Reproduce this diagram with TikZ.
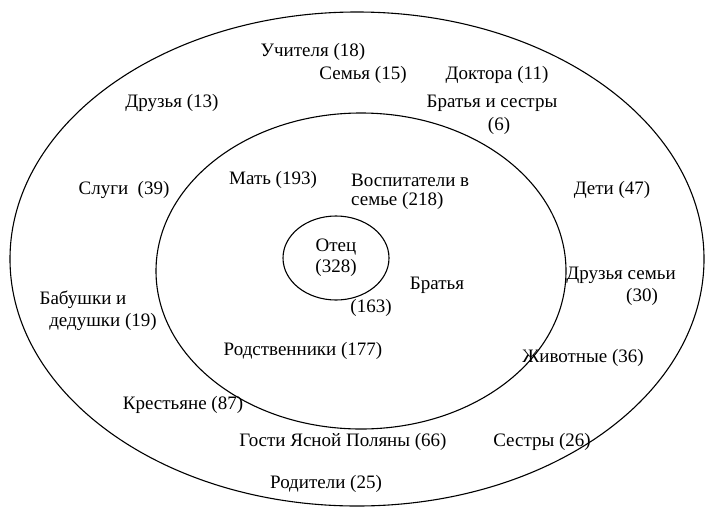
\documentclass[tikz,border=0pt]{standalone}
\usepackage{fontspec}
\setmainfont{Liberation Serif}
\begin{document}
\begin{tikzpicture}[x=1pt,y=-1pt,
  lbl/.style={font=\fontsize{19}{21}\selectfont, inner sep=0pt, align=center},
  ring/.style={draw=black, line width=1.1pt}]
\useasboundingbox (0,0) rectangle (708,506);
\fill[white] (0,0) rectangle (708,506);
% ellipses
\draw[ring] (357,259) ellipse [x radius=347, y radius=247];
\draw[ring] (361,271) ellipse [x radius=205, y radius=158];
\draw[ring] (336,258) ellipse [x radius=53, y radius=42];
% labels
\node[lbl] (uch) at (313,52) {Учителя (18)};
\node[lbl] (sem) at (363,75) {Семья (15)};
\node[lbl] (dok) at (497,75) {Доктора (11)};
\node[lbl] (dru) at (172,103) {Друзья (13)};
\node[lbl] (brs) at (492,103) {Братья и сестры};
\node[lbl] (brs6) at (499,126) {(6)};
\node[lbl] (slu) at (124,190) {Слуги\ \ (39)};
\node[lbl] (mat) at (273,180) {Мать (193)};
\node[lbl, anchor=west] (vos) at (351,180) {Воспитатели в};
\node[lbl, anchor=west] (vos2) at (351,201) {семье (218)};
\node[lbl] (det) at (612,190) {Дети (47)};
\node[lbl] (ote) at (336,258) {Отец\\(328)};
\node[lbl] (bra) at (437,285) {Братья};
\node[lbl] (bra2) at (371,308) {(163)};
\node[lbl] (drs) at (621,275) {Друзья семьи};
\node[lbl] (drs2) at (642,297) {(30)};
\node[lbl] (bab) at (83,300) {Бабушки и};
\node[lbl] (bab2) at (103,322) {дедушки (19)};
\node[lbl] (rod) at (303,351) {Родственники (177)};
\node[lbl] (ziv) at (583,358) {Животные (36)};
\node[lbl] (kre) at (183,405) {Крестьяне (87)};
\node[lbl] (gos) at (343,442) {Гости Ясной Поляны (66)};
\node[lbl] (ses) at (542,442) {Сестры (26)};
\node[lbl] (roi) at (326,484) {Родители (25)};
\end{tikzpicture}
\end{document}
